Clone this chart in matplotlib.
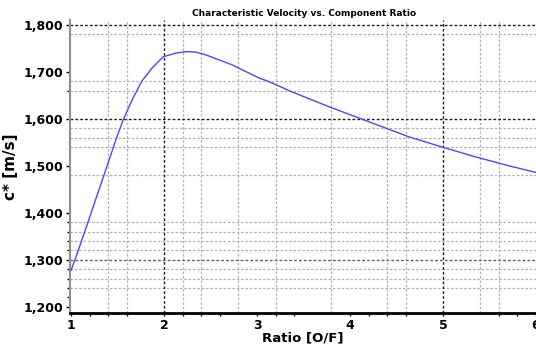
import matplotlib
matplotlib.use("Agg")
import matplotlib.pyplot as plt

# Data
ratio = [1.00, 1.08, 1.16, 1.27, 1.37, 1.48, 1.56, 1.66, 1.76, 1.87, 1.99,
         2.13, 2.24, 2.34, 2.45, 2.73, 3.02, 3.13, 3.38, 3.77, 4.20, 4.63, 4.99,
         5.35, 5.71, 6.00]
cstar = [1278, 1322, 1368, 1432, 1490, 1555, 1598, 1642, 1680, 1708, 1732,
         1740, 1743, 1742, 1736, 1715, 1687, 1679, 1657, 1626, 1594, 1562, 1540,
         1519, 1500, 1486]

x_ticks = [1, 2, 3, 4, 5, 6]
y_ticks = [1200, 1300, 1400, 1500, 1600, 1700, 1800]
x_minor_grid = [1.4, 1.6, 2.2, 2.4, 2.8, 3.2, 3.8, 4.4, 4.6, 5.4, 5.6]
y_minor_grid = [1240, 1260, 1280, 1320, 1340, 1360, 1380, 1480, 1540, 1560, 1580,
                1660, 1680, 1780]
x_dark_grid = [2, 5]
y_dark_grid = [1600, 1800]

fig = plt.figure(figsize=(5.36, 3.47), dpi=100)
ax = fig.add_axes([0.131, 0.098, 0.869, 0.844])

for xv in x_minor_grid:
    ax.axvline(xv, color='#b0b0b0', lw=0.9, ls=(0, (2, 1.5)), zorder=1)
for yv in y_minor_grid:
    ax.axhline(yv, color='#b0b0b0', lw=0.9, ls=(0, (2, 1.5)), zorder=1)
for xv in x_dark_grid:
    ax.axvline(xv, color='#202020', lw=1.0, ls=(0, (2, 1.5)), zorder=1)
for yv in y_dark_grid:
    ax.axhline(yv, color='#202020', lw=1.0, ls=(0, (2, 1.5)), zorder=1)
ax.axhline(1300, color='#606060', lw=1.0, ls=(0, (2, 1.5)), zorder=1)

ax.plot(ratio, cstar, color='#4848ff', lw=1.0, zorder=3)

ax.set_xlim(0.99, 6.0)
ax.set_ylim(1187, 1810)
ax.set_xticks(x_ticks)
ax.set_xticklabels([str(v) for v in x_ticks])
ax.set_yticks(y_ticks)
ax.set_yticklabels([f"{v:,}" for v in y_ticks])

for lab in ax.get_xticklabels() + ax.get_yticklabels():
    lab.set_fontweight('bold')
    lab.set_fontsize(9)

ax.tick_params(axis='x', length=2, width=1, pad=2)
ax.tick_params(axis='y', length=3, width=1, pad=2)
ax.set_xticks([1.2, 1.4, 1.6, 2.2, 2.4, 2.6, 3.2, 3.4, 4.2, 4.4, 4.6, 5.6, 5.8], minor=True)
ax.set_yticks([1220, 1240, 1260, 1280, 1320, 1340, 1360, 1380, 1660], minor=True)
ax.tick_params(which='minor', length=2, width=1)

ax.spines['top'].set_visible(False)
ax.spines['right'].set_visible(False)
ax.spines['left'].set_color('#909090')
ax.spines['left'].set_linewidth(1.5)
ax.spines['bottom'].set_color('black')
ax.spines['bottom'].set_linewidth(2.0)

ax.set_xlabel('Ratio [O/F]', fontsize=9.5, fontweight='bold', labelpad=0)
ax.set_ylabel('c* [m/s]', fontsize=11, fontweight='bold', labelpad=4)
fig.text(0.567, 0.962, 'Characteristic Velocity vs. Component Ratio',
         ha='center', va='center', fontsize=6.5, fontweight='bold')

fig.savefig('out.png', dpi=100)
